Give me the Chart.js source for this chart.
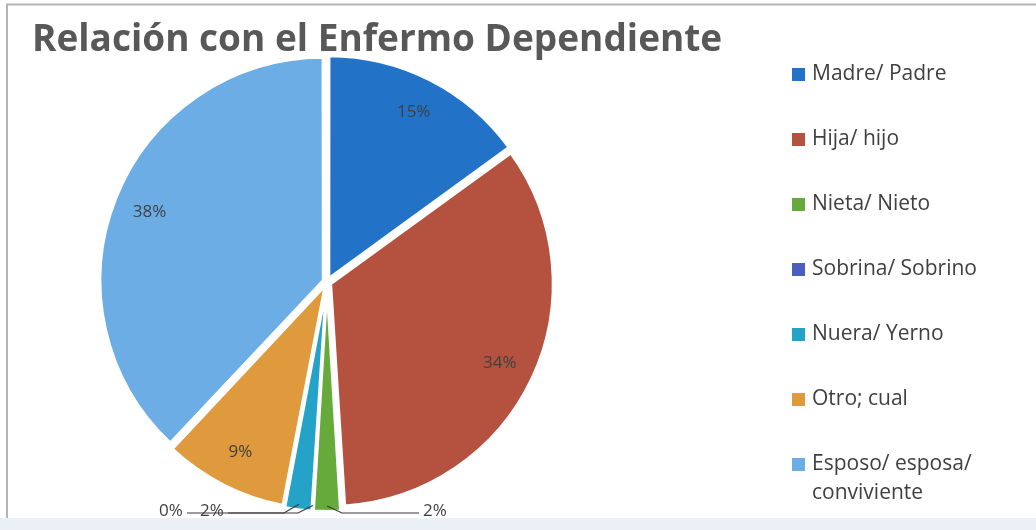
<!DOCTYPE html>
<html>
<head>
<meta charset="utf-8">
<script src="https://cdn.jsdelivr.net/npm/chart.js@4/dist/chart.umd.min.js"></script>
<style>
  html, body { margin: 0; padding: 0; background: #fff; }
  canvas { display: block; }
</style>
</head>
<body>
<canvas id="chart" width="1036" height="530"></canvas>
<script>
var titulo = 'Relación con el Enfermo Dependiente';
var relaciones = ['Madre/ Padre', 'Hija/ hijo', 'Nieta/ Nieto', 'Sobrina/ Sobrino', 'Nuera/ Yerno', 'Otro; cual', 'Esposo/ esposa/ conviviente'];
var porcentajes = [15, 34, 2, 0, 2, 9, 38];
var colores = ['#2273c7', '#b5523f', '#67aa3c', '#4a5ec0', '#25a2c8', '#de9a3c', '#6badE4'];

var FONT = '"Open Sans", Lato, sans-serif';
var TEXT = '#404040';

// fondo, marco y titulo
var fondo = {
  id: 'fondo',
  beforeDraw: function (chart) {
    var ctx = chart.ctx;
    ctx.save();
    ctx.fillStyle = '#ffffff';
    ctx.fillRect(0, 0, chart.width, chart.height);
    ctx.fillStyle = '#eaf0f6';
    ctx.fillRect(0, 518, chart.width, chart.height - 518);
    ctx.strokeStyle = '#b4b4b4';
    ctx.lineWidth = 2;
    ctx.beginPath();
    ctx.moveTo(7, 518);
    ctx.lineTo(7, 4.5);
    ctx.lineTo(chart.width, 4.5);
    ctx.stroke();
    ctx.fillStyle = '#585858';
    ctx.font = 'bold 37px ' + FONT;
    ctx.textBaseline = 'middle';
    ctx.fillText(titulo, 32, 40);
    ctx.restore();
  }
};

// porcentajes sobre cada sector; los pequeños van fuera con linea guia
var etiquetas = {
  id: 'etiquetas',
  afterDatasetsDraw: function (chart) {
    var ctx = chart.ctx;
    var meta = chart.getDatasetMeta(0);
    var izq = [];
    ctx.save();
    ctx.font = '17px ' + FONT;
    ctx.fillStyle = TEXT;
    ctx.strokeStyle = '#3a3a3a';
    ctx.lineWidth = 1.2;
    ctx.textAlign = 'center';
    ctx.textBaseline = 'middle';
    meta.data.forEach(function (arc, i) {
      var p = arc.getProps(['x', 'y', 'startAngle', 'endAngle', 'outerRadius'], true);
      var mid = (p.startAngle + p.endAngle) / 2;
      var txt = porcentajes[i] + '%';
      if (porcentajes[i] >= 5) {
        var d = p.outerRadius * 0.86;
        ctx.fillText(txt, p.x + Math.cos(mid) * d, p.y + Math.sin(mid) * d);
        return;
      }
      var tx = p.x + Math.cos(mid) * (p.outerRadius + 2);
      var ty = p.y + Math.sin(mid) * (p.outerRadius + 2);
      if (Math.cos(mid) >= -0.01) {
        var lx = tx + 108;
        ctx.beginPath();
        ctx.moveTo(tx, ty);
        ctx.lineTo(tx + 15, 513);
        ctx.lineTo(lx - 16, 513);
        ctx.stroke();
        ctx.fillText(txt, lx, 511);
      } else {
        izq.push({ tx: tx, ty: ty, txt: txt });
      }
    });
    // a la izquierda, el mas alejado del centro queda mas cerca del sector
    izq.sort(function (a, b) { return a.tx - b.tx; });
    var lx = null;
    izq.forEach(function (e) {
      lx = lx === null ? e.tx - 87 : lx - 41;
      ctx.beginPath();
      ctx.moveTo(e.tx, e.ty);
      ctx.lineTo(e.tx - 15, 513);
      ctx.lineTo(lx + 16, 513);
      ctx.stroke();
      ctx.fillText(e.txt, lx, 511);
    });
    ctx.restore();
  }
};

// leyenda a la derecha
var leyenda = {
  id: 'leyenda',
  afterDraw: function (chart) {
    var ctx = chart.ctx;
    ctx.save();
    ctx.font = '21px ' + FONT;
    ctx.textBaseline = 'middle';
    relaciones.forEach(function (nombre, i) {
      var y = 74 + i * 65;
      ctx.fillStyle = colores[i];
      ctx.fillRect(792, y - 6, 13, 13);
      ctx.fillStyle = TEXT;
      var palabras = nombre.split(' ');
      var linea = '';
      var lineas = [];
      palabras.forEach(function (w) {
        var prueba = linea ? linea + ' ' + w : w;
        if (linea && ctx.measureText(prueba).width > 215) {
          lineas.push(linea);
          linea = w;
        } else {
          linea = prueba;
        }
      });
      lineas.push(linea);
      lineas.forEach(function (l, k) {
        ctx.fillText(l, 812, y + k * 29);
      });
    });
    ctx.restore();
  }
};

new Chart(document.getElementById('chart'), {
  type: 'pie',
  data: {
    labels: relaciones,
    datasets: [{
      data: porcentajes,
      backgroundColor: colores,
      borderColor: '#ffffff',
      borderWidth: 3,
      offset: 16,
      radius: 222
    }]
  },
  options: {
    responsive: false,
    animation: false,
    layout: { padding: { left: 90, right: 472, top: 50, bottom: 16 } },
    plugins: {
      legend: { display: false },
      tooltip: { enabled: false }
    }
  },
  plugins: [fondo, etiquetas, leyenda]
});
</script>
</body>
</html>
